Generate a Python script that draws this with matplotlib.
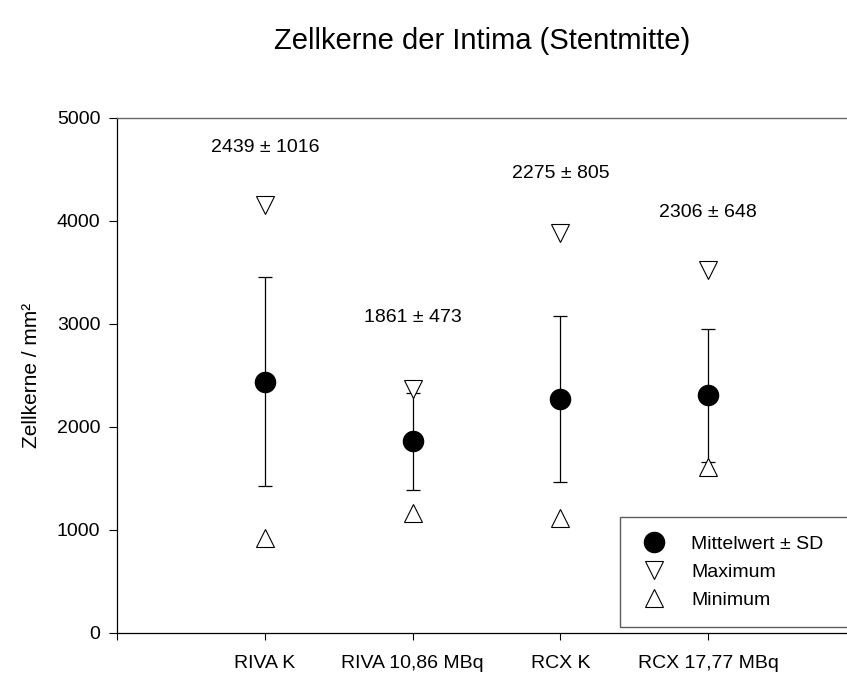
import numpy as np
import matplotlib.pyplot as plt

plt.rcParams['font.family'] = ['Liberation Sans', 'DejaVu Sans']

# Zellkerne der Intima (Stentmitte)
groups = ['RIVA K', 'RIVA 10,86 MBq', 'RCX K', 'RCX 17,77 MBq']
means = [2439, 1861, 2275, 2306]
sds = [1016, 473, 805, 648]
maxima = [4160, 2370, 3880, 3525]
minima = [920, 1165, 1115, 1610]
label_y = [4710, 3060, 4465, 4080]

x = np.arange(1, len(groups) + 1)

fig = plt.figure(figsize=(8.47, 6.86), dpi=100)
ax = fig.add_axes([0.1381, 0.0773, 0.96, 0.7507])

ax.errorbar(x, means, yerr=sds, fmt='none', ecolor='black', elinewidth=0.9,
            capsize=5, capthick=0.9, zorder=2)
ax.plot(x, maxima, linestyle='none', marker='v', markersize=13,
        markerfacecolor='white', markeredgecolor='black', markeredgewidth=0.8,
        label='Maximum', zorder=3)
ax.plot(x, minima, linestyle='none', marker='^', markersize=13,
        markerfacecolor='white', markeredgecolor='black', markeredgewidth=0.8,
        label='Minimum', zorder=3)
ax.plot(x, means, linestyle='none', marker='o', markersize=14.5,
        color='black', label='Mittelwert ± SD', zorder=4)

for xi, m, s, ly in zip(x, means, sds, label_y):
    ax.text(xi, ly, f'{m} ± {s}', ha='center', va='center', fontsize=14)

ax.set_xlim(0, 5.5)
ax.set_ylim(0, 5000)
ax.set_yticks([0, 1000, 2000, 3000, 4000, 5000])
ax.set_xticks([0] + list(x))
ax.set_xticklabels([''] + groups)
ax.tick_params(axis='y', direction='out', length=6, width=0.8, pad=6, labelsize=14)
ax.tick_params(axis='x', direction='out', length=5, width=0.8, pad=11, labelsize=14)
ax.set_ylabel('Zellkerne / mm²', fontsize=15, labelpad=11)

ax.spines['right'].set_visible(False)
ax.spines['top'].set_color('#666666')
ax.spines['top'].set_linewidth(1.0)
ax.spines['left'].set_linewidth(0.9)
ax.spines['bottom'].set_linewidth(0.9)

handles, labels = ax.get_legend_handles_labels()
order = [2, 0, 1]
leg = ax.legend([handles[i] for i in order], [labels[i] for i in order],
                loc='upper left',
                bbox_to_anchor=(620 / 847, 1 - 627 / 686, 0.4, 110 / 686),
                bbox_transform=fig.transFigure, mode='expand', fontsize=14,
                frameon=True, fancybox=False, edgecolor='#333333',
                borderpad=0.95, labelspacing=0.52, handlelength=1.6,
                handletextpad=1.1, borderaxespad=0)
leg.get_frame().set_linewidth(1.0)

fig.text(482 / 847, 1 - 41 / 686, 'Zellkerne der Intima (Stentmitte)',
         ha='center', va='center', fontsize=21)

fig.savefig('out.png', dpi=100)
